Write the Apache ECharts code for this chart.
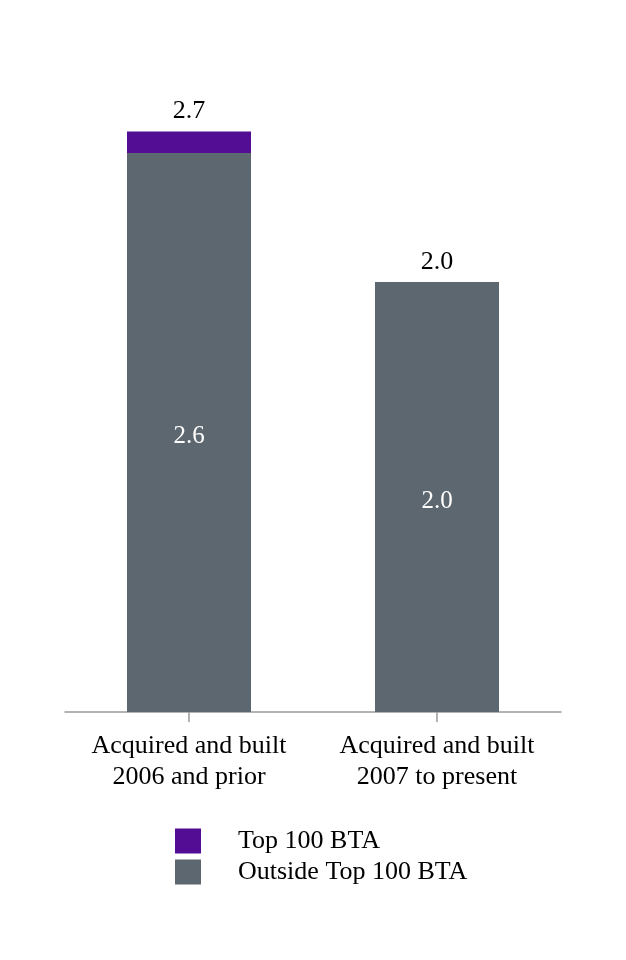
<!DOCTYPE html>
<html>
<head>
<meta charset="utf-8">
<script src="https://cdn.jsdelivr.net/npm/echarts@6/dist/echarts.min.js"></script>
<style>
  html, body { margin: 0; padding: 0; background: #fff; }
  #main { width: 626px; height: 960px; }
</style>
</head>
<body>
<div id="main"></div>
<script>
// data
var categories = ['Acquired and built\n2006 and prior', 'Acquired and built\n2007 to present'];
var outsideTop100 = [2.6, 2.0];
var top100 = [0.1, 0.0];
var totals = [2.7, 2.0];

var font = 'Liberation Serif';
var purple = '#530c94';
var grey = '#5c6770';

var myChart = echarts.init(document.getElementById('main'));

var option = {
    animation: false,
    backgroundColor: '#fff',
    textStyle: { fontFamily: font },
    grid: { left: 65, right: 65, top: 67, bottom: 248 },
    legend: {
        orient: 'vertical',
        left: 175,
        top: 828,
        padding: 0,
        itemWidth: 26,
        itemHeight: 25,
        itemGap: 5,
        icon: 'rect',
        data: ['Top 100 BTA', 'Outside Top 100 BTA'],
        textStyle: { fontFamily: font, fontSize: 26, color: '#000', padding: [3, 0, 0, 32] }
    },
    xAxis: {
        type: 'category',
        data: categories,
        axisLine: { lineStyle: { color: '#9a9a9a', width: 1.5 } },
        axisTick: { show: true, interval: 0, alignWithLabel: true, length: 10, lineStyle: { color: '#9a9a9a', width: 1.5 } },
        axisLabel: { interval: 0, hideOverlap: false, fontFamily: font, fontSize: 26, color: '#000', lineHeight: 31, margin: 19 }
    },
    yAxis: {
        type: 'value',
        min: 0,
        max: 3,
        show: false,
        splitLine: { show: false }
    },
    series: [
        {
            name: 'Outside Top 100 BTA',
            type: 'bar',
            stack: 'total',
            barWidth: 124,
            itemStyle: { color: grey },
            label: {
                show: true,
                position: 'inside',
                offset: [0, 4],
                color: '#fff',
                fontFamily: font,
                fontSize: 25,
                formatter: function (p) { return p.value.toFixed(1); }
            },
            data: outsideTop100
        },
        {
            name: 'Top 100 BTA',
            type: 'bar',
            stack: 'total',
            barWidth: 124,
            itemStyle: { color: purple },
            label: {
                show: true,
                position: 'top',
                distance: 7,
                color: '#000',
                fontFamily: font,
                fontSize: 26,
                formatter: function (p) { return totals[p.dataIndex].toFixed(1); }
            },
            data: top100
        }
    ]
};

myChart.setOption(option);
</script>
</body>
</html>
